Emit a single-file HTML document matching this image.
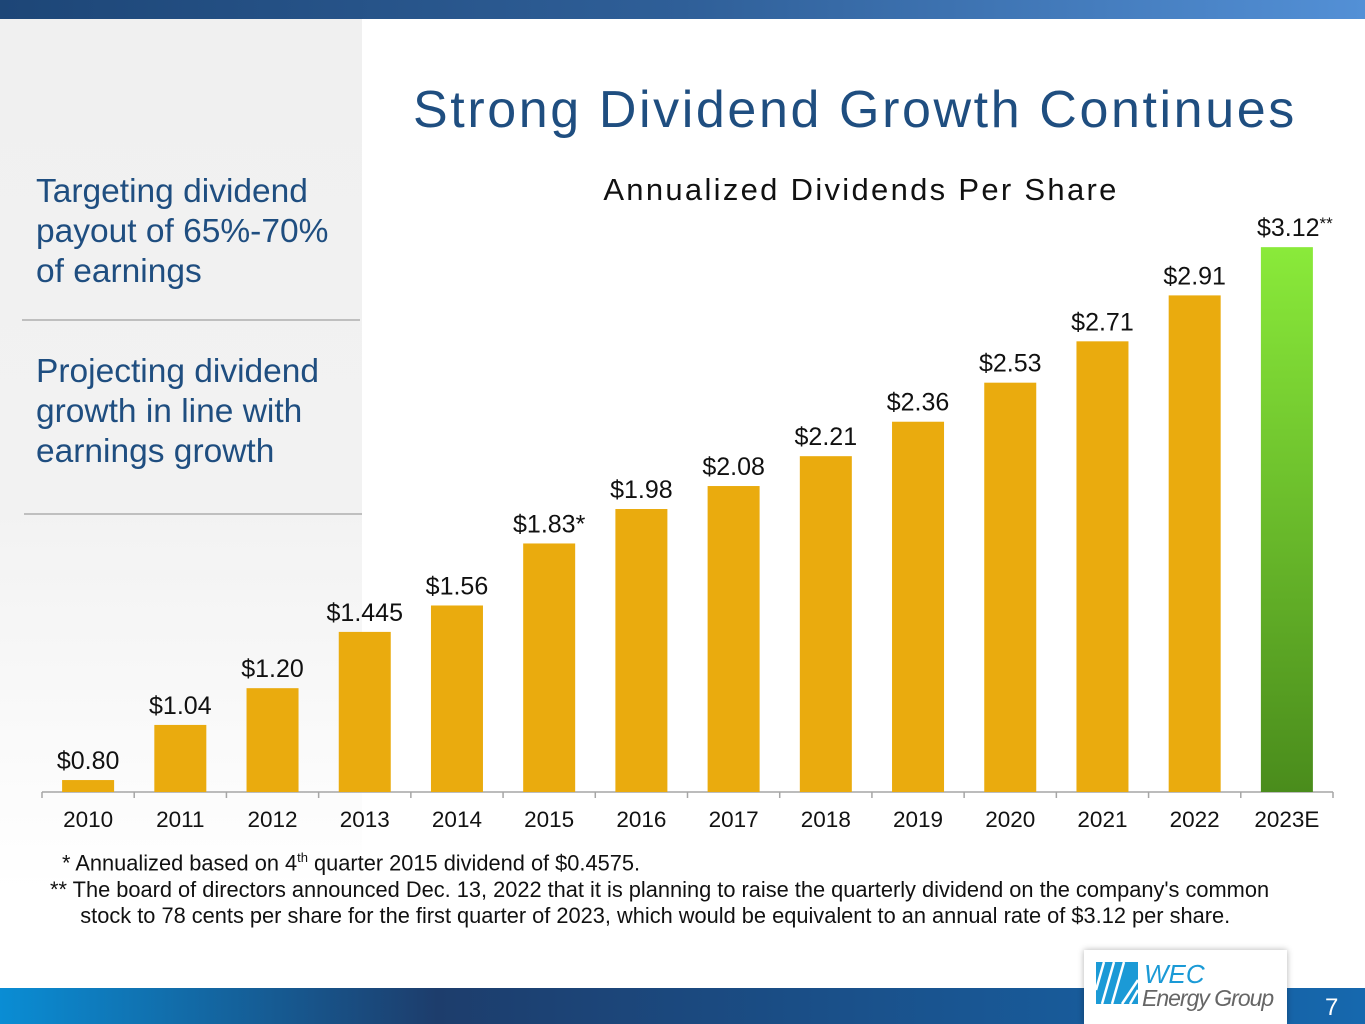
<!DOCTYPE html>
<html><head><meta charset="utf-8"><style>
body{margin:0;width:1365px;height:1024px;position:relative;overflow:hidden;background:#fff;font-family:"Liberation Sans",sans-serif}
.abs{position:absolute}
#topbar{left:0;top:0;width:1365px;height:19px;background:linear-gradient(90deg,#1d4677,#2f5f98 50%,#5390d6)}
#leftpanel{left:0;top:19px;width:362px;height:969px;background:linear-gradient(180deg,#f0f0f0 0%,#f2f2f2 50%,#fff 90%)}
#botbar{left:0;top:988px;width:1365px;height:36px;background:linear-gradient(90deg,#0a8dd4,#1d3d6c 32%,#1a4f88 60%,#1668ae)}
.lt{left:36px;color:#1f4e80;font-size:33.5px;line-height:40px;white-space:nowrap}
.div{height:2px;background:#bfbfbf}
#title{left:413px;top:80px;font-size:52px;color:#1f4e80;letter-spacing:2.6px;white-space:nowrap}
.fn{font-size:21.8px;color:#111;white-space:nowrap}
</style></head><body>
<div id="topbar" class="abs"></div>
<div id="leftpanel" class="abs"></div>
<div id="botbar" class="abs"></div>
<div class="abs lt" style="top:172px">Targeting dividend<br>payout of 65%-70%<br>of earnings</div>
<div class="abs div" style="left:22px;top:319px;width:338px"></div>
<div class="abs lt" style="top:352px">Projecting dividend<br>growth in line with<br>earnings growth</div>
<div class="abs div" style="left:24px;top:513px;width:338px"></div>
<div id="title" class="abs">Strong Dividend Growth Continues</div>
<svg class="abs" style="left:0;top:0" width="1365" height="1024">
<defs><linearGradient id="g" x1="0" y1="0" x2="0" y2="1"><stop offset="0" stop-color="#8aea3a"/><stop offset="1" stop-color="#4a8c1c"/></linearGradient></defs>
<text x="861" y="200" text-anchor="middle" font-size="31" letter-spacing="2.3" fill="#111" font-family="Liberation Sans, sans-serif">Annualized Dividends Per Share</text>
<g id="marks"></g>
</svg>
<div class="abs fn" style="left:62px;top:850px">* Annualized based on 4<sup style="font-size:13px">th</sup> quarter 2015 dividend of $0.4575.</div>
<div class="abs fn" style="left:50px;top:877px;line-height:26px">** The board of directors announced Dec. 13, 2022 that it is planning to raise the quarterly dividend on the company's common<br>&nbsp;&nbsp;&nbsp;&nbsp; stock to 78 cents per share for the first quarter of 2023, which would be equivalent to an annual rate of $3.12 per share.</div>
<div class="abs" style="left:1084px;top:950px;width:203px;height:74px;background:#fff;box-shadow:0 0 6px rgba(0,0,0,0.3)">
<svg width="203" height="74" style="position:absolute;left:0;top:0">
<rect x="12" y="12" width="42" height="42" fill="#1b9ad6"/>
<g stroke="#fff" stroke-width="2.5" fill="none"><path d="M20 12 L12 40"/><path d="M30 12 L18 54"/><path d="M40 12 L28 54"/><path d="M54 30 L38 54"/><path d="M54 40 L46 54"/></g>
<text x="60" y="33" font-size="26" font-style="italic" fill="#1b9ad6" font-family="Liberation Sans, sans-serif">WEC</text>
<text x="58" y="56" font-size="23" font-style="italic" fill="#666" letter-spacing="-1" font-family="Liberation Sans, sans-serif">Energy Group</text>
</svg></div>
<div class="abs" style="left:1325px;top:994px;color:#fff;font-size:24px">7</div>
<script>
const categories=["2010","2011","2012","2013","2014","2015","2016","2017","2018","2019","2020","2021","2022","2023E"];
const values=[0.80,1.04,1.20,1.445,1.56,1.83,1.98,2.08,2.21,2.36,2.53,2.71,2.91,3.12];
const labels=["$0.80","$1.04","$1.20","$1.445","$1.56","$1.83*","$1.98","$2.08","$2.21","$2.36","$2.53","$2.71","$2.91","$3.12"];
const NS="http://www.w3.org/2000/svg";
const x0=42,x1=1333,yBase=792,yMin=0.748,pxPer=229.7;
const bw=(x1-x0)/categories.length;
const xs=i=>x0+i*bw;
const ys=v=>yBase-(v-yMin)*pxPer;
const g=document.getElementById('marks');
function mk(t,a){const e=document.createElementNS(NS,t);for(const k in a)e.setAttribute(k,a[k]);g.appendChild(e);return e;}
const ax=mk('line',{x1:x0,y1:yBase,x2:x1,y2:yBase,stroke:'#a6a6a6','stroke-width':1.5});


for(let i=0;i<=categories.length;i++){const t=mk('line',{x1:xs(i),y1:yBase,x2:xs(i),y2:yBase+6,stroke:'#a6a6a6','stroke-width':1.5});

}
categories.forEach((c,i)=>{
 const cx=xs(i)+bw/2, y=ys(values[i]);
 const last=i===categories.length-1;
 const r=mk('rect',{x:cx-26,y:y,width:52,height:yBase-y,fill:last?'url(#g)':'#eaab0e'});
 
 
 const l=mk('text',{x:cx,y:y-11,'text-anchor':'middle','font-size':25,fill:'#111','font-family':'Liberation Sans, sans-serif'});
 l.textContent=labels[i];
 if(last){const s=document.createElementNS(NS,'tspan');s.setAttribute('font-size','17');s.setAttribute('dy','-7');s.textContent='**';l.appendChild(s);l.setAttribute('x',cx+8);}
 
 
 const t=mk('text',{x:cx,y:827,'text-anchor':'middle','font-size':22.5,fill:'#111','font-family':'Liberation Sans, sans-serif'});
 t.textContent=c;
 
 
});
</script>
</body></html>
